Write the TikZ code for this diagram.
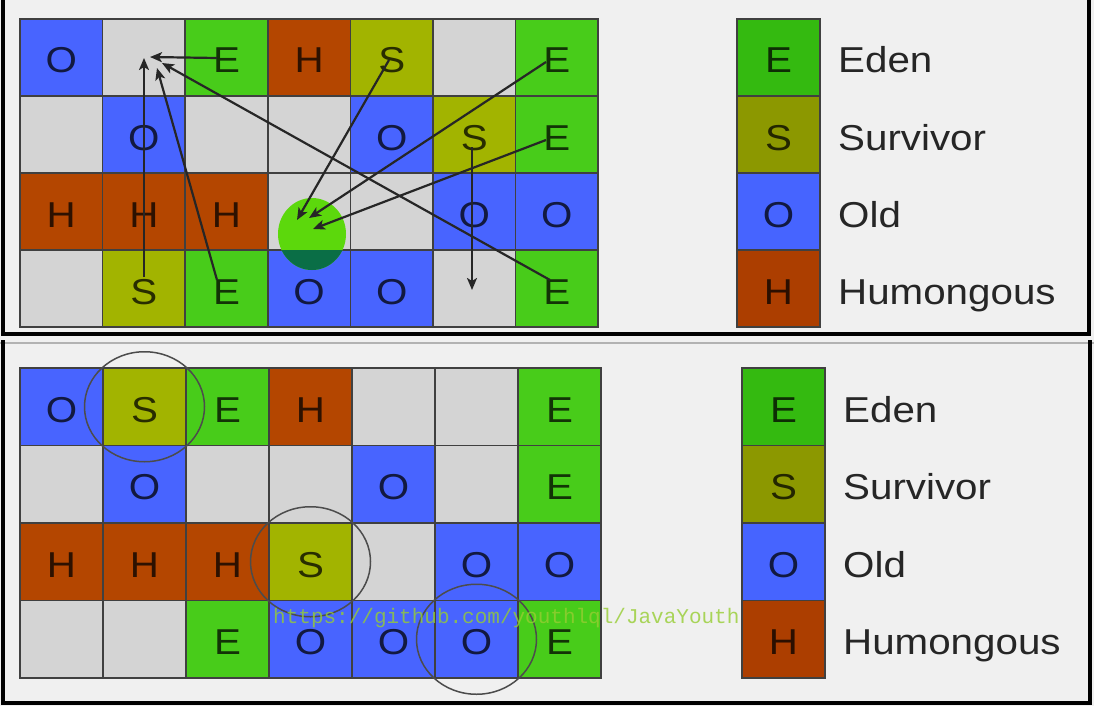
\documentclass[tikz,border=0pt]{standalone}
\usepackage{fontspec}
\setmainfont{Liberation Sans}
\newfontfamily\cellfont[FakeStretch=1.12]{Liberation Sans}
\newfontfamily\wmfont{Liberation Mono}
\usetikzlibrary{arrows.meta}
\usepackage{xcolor}
\definecolor{cE}{RGB}{72,204,26}
\definecolor{cS}{RGB}{162,180,0}
\definecolor{cO}{RGB}{72,100,255}
\definecolor{cH}{RGB}{180,70,0}
\definecolor{cx}{RGB}{212,212,212}
\definecolor{lE}{RGB}{52,186,16}
\definecolor{lS}{RGB}{140,152,0}
\definecolor{lO}{RGB}{70,100,255}
\definecolor{lH}{RGB}{172,62,0}
\definecolor{bg}{RGB}{240,240,240}
\definecolor{hl}{RGB}{92,216,12}
\definecolor{hldark}{RGB}{10,110,70}
\definecolor{wmgreen}{RGB}{150,205,50}
\newcommand\lett[1]{\if x#1\else#1\fi}

\begin{document}
\begin{tikzpicture}[x=1pt,y=-1pt,
  cell/.style={draw=black!75, line width=1.5pt, inner sep=0pt, outer sep=0pt, anchor=north west,
    text height=31pt, text depth=0pt, font={\cellfont\fontsize{36}{40}\selectfont}, text=black, text opacity=.75},
  legtext/.style={anchor=base west, inner sep=0pt, font={\cellfont\fontsize{36}{40}\selectfont}, text=black!85},
  ring/.style={draw=black!70, line width=1.5pt},
  arr/.style={draw=black!85, line width=2.2pt, ->, >={Stealth[length=12pt,width=10pt,inset=3pt]}},
  frame/.style={draw=black, line width=3.5pt}]
\useasboundingbox (0,0) rectangle (1094,706);
\fill[bg] (0,0) rectangle (1094,706);
\draw[frame] (3,0) -- (3,334) -- (1089,334) -- (1089,0);
\draw[gray!60, line width=1.5pt] (0,343) -- (1094,343);
\draw[frame] (3,340) -- (3,703) -- (1090,703) -- (1090,340);

\foreach \row [count=\r from 0] in {{O,x,E,H,S,x,E},{x,O,x,x,O,S,E},{H,H,H,x,x,O,O},{x,S,E,O,O,x,E}}
  \foreach \c [count=\k from 0] in \row
    \node[cell, fill=c\c, minimum width=82.6pt, minimum height=77pt] (t-\r-\k) at ({20+82.6*\k},{19+77*\r}) {\lett\c};
\foreach \row [count=\r from 0] in {{O,S,E,H,x,x,E},{x,O,x,x,O,x,E},{H,H,H,S,x,O,O},{x,x,E,O,O,O,E}}
  \foreach \c [count=\k from 0] in \row
    \node[cell, fill=c\c, minimum width=83pt, minimum height=77.5pt] (b-\r-\k) at ({20+83*\k},{368+77.5*\r}) {\lett\c};

\fill[hl] (312,234) ellipse (34pt and 36pt);
\begin{scope}
\clip (270,250) rectangle (360,280);
\fill[hldark] (312,234) ellipse (34pt and 36pt);
\end{scope}

\coordinate (s1) at (217,58);  \coordinate (e1) at (150,57);
\coordinate (s2) at (144,277); \coordinate (e2) at (144,58);
\coordinate (s3) at (217,280); \coordinate (e3) at (157,68);
\coordinate (s4) at (550,280); \coordinate (e4) at (162,63);
\coordinate (s5) at (389,60);  \coordinate (e5) at (297,220);
\coordinate (s6) at (546,62);  \coordinate (e6) at (309,218);
\coordinate (s7) at (546,140); \coordinate (e7) at (313,229);
\coordinate (s8) at (472,147); \coordinate (e8) at (472,290);
\foreach \i in {1,...,8}
  \draw[arr] (s\i) -- (e\i);

\draw[ring] (b-0-1.center) ellipse (60pt and 55pt);
\draw[ring] (b-2-3.center) ellipse (60pt and 55pt);
\draw[ring] (b-3-5.center) ellipse (60pt and 55pt);

\node[anchor=base west, inner sep=0pt, font={\wmfont\fontsize{21}{24}\selectfont}, text=wmgreen, text opacity=.8] (wm) at (273,623) {https://github.com/youthlql/JavaYouth};

\foreach \c/\name [count=\r from 0] in {E/Eden,S/Survivor,O/Old,H/Humongous} {
  \node[cell, fill=l\c, minimum width=83pt, minimum height=77pt] (tl-\r) at (737,{19+77*\r}) {\c};
  \node[legtext] (tn-\r) at (838,{73+77*\r}) {\name};
  \node[cell, fill=l\c, minimum width=83pt, minimum height=77.5pt] (bl-\r) at (742,{368+77.5*\r}) {\c};
  \node[legtext] (bn-\r) at (843,{422+77.5*\r}) {\name};
}
\end{tikzpicture}
\end{document}
